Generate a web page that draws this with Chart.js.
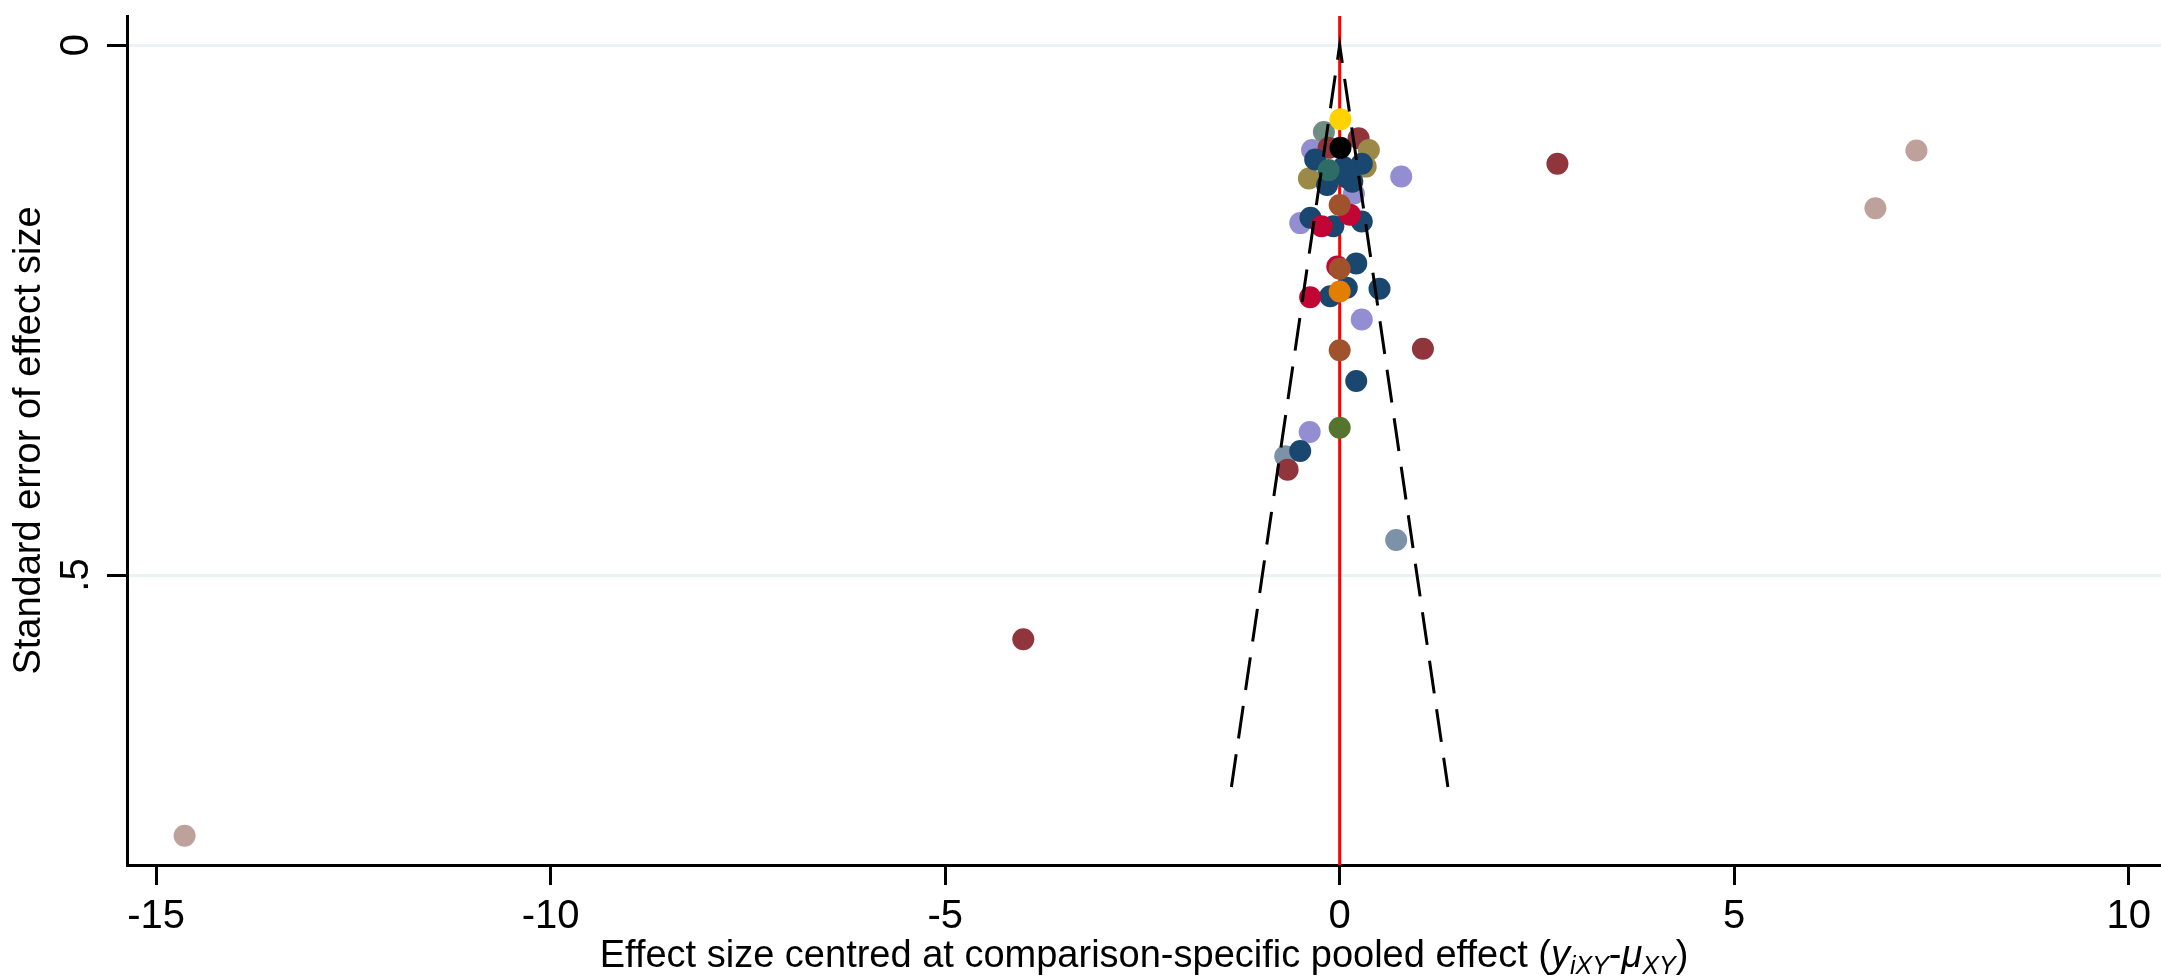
<!DOCTYPE html>
<html>
<head>
<meta charset="utf-8">
<script src="https://cdn.jsdelivr.net/npm/chart.js@4.4.1/dist/chart.umd.min.js"></script>
<style>
html,body{margin:0;padding:0;background:#ffffff;}
canvas{display:block;}
</style>
</head>
<body>
<canvas id="c" width="2161" height="980"></canvas>
<script>
// ---- axis ticks / ranges ----
const xTickValues = [-15, -10, -5, 0, 5, 10];
const xTickLabels = ['-15', '-10', '-5', '0', '5', '10'];
const yTickValues = [0, 0.5];
const yTickLabels = ['0', '.5'];
const xRange = [-15.37, 10.41];
const yRange = [-0.0274, 0.7736];

const xTitle = ['Effect size centred at comparison-specific pooled effect (', 'y', 'iXY', '-', 'μ', 'XY', ')'];
const yTitle = 'Standard error of effect size';

// ---- pseudo 95% CI funnel and reference line ----
const funnelX = [-1.372, 0, 1.372];
const funnelY = [0.7, 0, 0.7];
const refX = [0, 0];

// ---- studies, grouped by comparison (colour) ----
const navyX = [-0.31, 0.05, 0.28, 0.09, -0.16, 0.16, -0.37, -0.08, 0.28, 0.21, 0.505, 0.09, -0.12, 0.21, -0.50];
const navyY = [0.108, 0.115, 0.112, 0.125, 0.132, 0.129, 0.163, 0.171, 0.1665, 0.206, 0.230, 0.229, 0.237, 0.317, 0.383];
const maroonX = [0.24, -0.14, 2.76, 1.055, -0.66, -4.01];
const maroonY = [0.088, 0.097, 0.112, 0.2865, 0.4006, 0.5606];
const eroseX = [-14.64, 7.31, 6.79];
const eroseY = [0.746, 0.0995, 0.154];
const lavenderX = [-0.35, 0.78, 0.18, -0.50, 0.28, -0.38];
const lavenderY = [0.099, 0.124, 0.140, 0.168, 0.259, 0.365];
const cranberryX = [0.13, -0.23, -0.03, -0.374];
const cranberryY = [0.160, 0.171, 0.209, 0.238];
const siennaX = [0, 0, 0];
const siennaY = [0.151, 0.211, 0.288];
const brownX = [0.37, 0.33, -0.39];
const brownY = [0.099, 0.1147, 0.126];
const emeraldX = [-0.14];
const emeraldY = [0.118];
const tealX = [-0.20];
const tealY = [0.082];
const emidblueX = [-0.69, 0.716];
const emidblueY = [0.388, 0.467];
const dkorangeX = [0];
const dkorangeY = [0.2325];
const forestX = [0];
const forestY = [0.361];
const goldX = [0.01];
const goldY = [0.070];
const blackX = [0.01];
const blackY = [0.097];

const groups = [
  ['black', '#000000', blackX, blackY],
  ['gold', '#ffd200', goldX, goldY],
  ['dkorange', '#e37e00', dkorangeX, dkorangeY],
  ['sienna', '#a0522d', siennaX, siennaY],
  ['forest', '#55752f', forestX, forestY],
  ['cranberry', '#c10534', cranberryX, cranberryY],
  ['emerald', '#2d6d66', emeraldX, emeraldY],
  ['navy', '#1a476f', navyX, navyY],
  ['brown', '#9c8847', brownX, brownY],
  ['maroon', '#90353b', maroonX, maroonY],
  ['lavender', '#938dd2', lavenderX, lavenderY],
  ['emidblue', '#7b92a8', emidblueX, emidblueY],
  ['teal', '#6e8e84', tealX, tealY],
  ['erose', '#bfa19c', eroseX, eroseY]
];

const zip = (xs, ys) => xs.map((x, i) => ({x: x, y: ys[i]}));

const FONT = '"Liberation Sans", Arial, sans-serif';

const datasets = [];
datasets.push({
  label: 'funnel',
  data: zip(funnelX, funnelY),
  showLine: true,
  borderColor: '#000000',
  borderWidth: 3,
  borderDash: [33, 16],
  pointRadius: 0,
  fill: false,
  order: 0
});
groups.forEach((g, i) => {
  datasets.push({
    label: g[0],
    data: zip(g[2], g[3]),
    backgroundColor: g[1],
    borderColor: g[1],
    pointRadius: 11,
    pointBorderWidth: 0,
    showLine: false,
    order: i + 1
  });
});
datasets.push({
  label: 'ref',
  data: zip(refX, yRange),
  showLine: true,
  borderColor: '#ff0000',
  borderWidth: 3,
  pointRadius: 0,
  fill: false,
  order: 100
});

const extraText = {
  id: 'extraText',
  afterDraw(chart) {
    const ctx = chart.ctx;
    const ys = chart.scales.y;
    const xs = chart.scales.x;
    const ca = chart.chartArea;
    ctx.save();
    ctx.fillStyle = '#000000';
    // rotated y tick labels
    ctx.font = '40px ' + FONT;
    ctx.textAlign = 'center';
    ctx.textBaseline = 'middle';
    yTickValues.forEach((v, i) => {
      const py = ys.getPixelForValue(v);
      ctx.save();
      ctx.translate(ys.right - 50, py);
      ctx.rotate(-Math.PI / 2);
      ctx.fillText(yTickLabels[i], 0, 0);
      ctx.restore();
    });
    // x axis title with italic / subscript parts
    const big = 38, small = 25;
    const segs = [
      {t: xTitle[0], f: big + 'px ' + FONT, dy: 0},
      {t: xTitle[1], f: 'italic ' + big + 'px ' + FONT, dy: 0},
      {t: xTitle[2], f: 'italic ' + small + 'px ' + FONT, dy: 7},
      {t: xTitle[3], f: big + 'px ' + FONT, dy: 0},
      {t: xTitle[4], f: 'italic ' + big + 'px ' + FONT, dy: 0},
      {t: xTitle[5], f: 'italic ' + small + 'px ' + FONT, dy: 7},
      {t: xTitle[6], f: big + 'px ' + FONT, dy: 0}
    ];
    ctx.textAlign = 'left';
    ctx.textBaseline = 'alphabetic';
    let total = 0;
    segs.forEach(s => { ctx.font = s.f; s.w = ctx.measureText(s.t).width; total += s.w; });
    let x = (ca.left + ca.right) / 2 - total / 2;
    const base = xs.bottom - 13;
    segs.forEach(s => { ctx.font = s.f; ctx.fillText(s.t, x, base + s.dy); x += s.w; });
    ctx.restore();
  }
};

new Chart(document.getElementById('c'), {
  type: 'scatter',
  data: {datasets: datasets},
  plugins: [extraText],
  options: {
    responsive: false,
    devicePixelRatio: 1,
    animation: false,
    events: [],
    layout: {autoPadding: false, padding: {top: 16, right: 0, left: 0, bottom: 0}},
    plugins: {legend: {display: false}, tooltip: {enabled: false}},
    scales: {
      x: {
        type: 'linear',
        min: xRange[0],
        max: xRange[1],
        afterBuildTicks: (s) => { s.ticks = xTickValues.map(v => ({value: v})); },
        afterFit: (s) => { s.height = 115; s.paddingLeft = 0; s.paddingRight = 0; },
        ticks: {
          callback: (v) => xTickLabels[xTickValues.indexOf(v)],
          color: '#000000',
          font: {family: FONT, size: 40},
          padding: 8,
          maxRotation: 0,
          minRotation: 0,
          autoSkip: false
        },
        grid: {
          drawOnChartArea: false,
          drawTicks: true,
          tickLength: 20,
          tickWidth: 3,
          tickColor: '#000000'
        },
        border: {display: true, color: '#000000', width: 3}
      },
      y: {
        type: 'linear',
        reverse: true,
        min: yRange[0],
        max: yRange[1],
        afterBuildTicks: (s) => { s.ticks = yTickValues.map(v => ({value: v})); },
        afterFit: (s) => { s.width = 127; s.paddingTop = 0; s.paddingBottom = 0; },
        ticks: {display: false},
        grid: {
          drawOnChartArea: true,
          color: '#eaf2f3',
          lineWidth: 3,
          drawTicks: true,
          tickLength: 20,
          tickWidth: 3,
          tickColor: '#000000'
        },
        border: {display: true, color: '#000000', width: 3},
        title: {
          display: true,
          text: yTitle,
          color: '#000000',
          font: {family: FONT, size: 38},
          padding: {top: 7, bottom: 0}
        }
      }
    }
  }
});
</script>
</body>
</html>
